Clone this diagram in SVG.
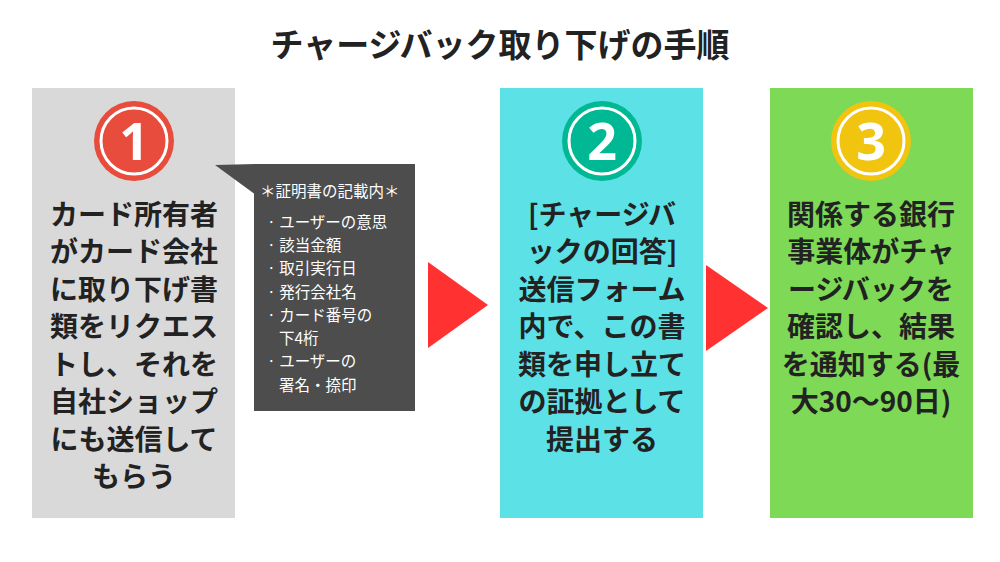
<svg xmlns="http://www.w3.org/2000/svg" width="1000" height="562" viewBox="0 0 1000 562">
<style>
.t{font-family:"Noto Sans CJK JP","Noto Sans",sans-serif;font-weight:bold;fill:#222;font-size:28px;text-anchor:middle}
.n{font-family:"Open Sans","Noto Sans",sans-serif;font-weight:bold;fill:#fff;font-size:52px;text-anchor:middle}
.c{font-family:"Noto Sans CJK JP",sans-serif;fill:#fff;font-size:15.5px}
.ring{fill:none;stroke:#fff;stroke-width:3}
</style>
<rect width="1000" height="562" fill="#fff"/>
<text x="500" y="57" class="t" style="font-size:33px">チャージバック取り下げの手順</text>
<g id="step1">
<rect x="32" y="88" width="203" height="430" fill="#d9d9d9"/>
<circle cx="134" cy="141" r="40" fill="#e74c3c"/><circle cx="134" cy="141" r="33" class="ring"/>
<text x="134" y="160" class="n">1</text>
<text class="t"><tspan x="134" y="225">カード所有者</tspan><tspan x="134" y="262">がカード会社</tspan><tspan x="134" y="300">に取り下げ書</tspan><tspan x="134" y="337">類をリクエス</tspan><tspan x="134" y="375">トし、それを</tspan><tspan x="134" y="412">自社ショップ</tspan><tspan x="134" y="450">にも送信して</tspan><tspan x="134" y="487">もらう</tspan></text>
</g>
<g id="callout">
<polygon points="215,165 260,164 260,198" fill="#4d4d4d"/>
<rect x="254" y="164" width="161" height="247" fill="#4d4d4d"/>
<text class="c"><tspan x="260" y="197">＊証明書の記載内＊</tspan><tspan x="267" y="228">· ユーザーの意思</tspan><tspan x="267" y="251">· 該当金額</tspan><tspan x="267" y="274">· 取引実行日</tspan><tspan x="267" y="298">· 発行会社名</tspan><tspan x="267" y="321">· カード番号の</tspan><tspan x="279" y="344">下4桁</tspan><tspan x="267" y="367">· ユーザーの</tspan><tspan x="279" y="391">署名・捺印</tspan></text>
</g>
<g id="step2">
<rect x="500" y="88" width="203" height="430" fill="#5ce1e6"/>
<circle cx="602" cy="141" r="40" fill="#00b894"/><circle cx="602" cy="141" r="33" class="ring"/>
<text x="602" y="160" class="n">2</text>
<text class="t"><tspan x="602" y="225">[チャージバ</tspan><tspan x="602" y="262">ックの回答]</tspan><tspan x="602" y="300">送信フォーム</tspan><tspan x="602" y="337">内で、この書</tspan><tspan x="602" y="375">類を申し立て</tspan><tspan x="602" y="412">の証拠として</tspan><tspan x="602" y="450">提出する</tspan></text>
</g>
<g id="step3">
<rect x="770" y="88" width="203" height="430" fill="#7ed957"/>
<circle cx="871" cy="141" r="40" fill="#f1c40f"/><circle cx="871" cy="141" r="33" class="ring"/>
<text x="871" y="160" class="n">3</text>
<text class="t"><tspan x="871" y="225">関係する銀行</tspan><tspan x="871" y="262">事業体がチャ</tspan><tspan x="871" y="300">ージバックを</tspan><tspan x="871" y="337">確認し、結果</tspan><tspan x="871" y="375">を通知する(最</tspan><tspan x="871" y="412">大30～90日)</tspan></text>
</g>
<g id="connectors" fill="#ff3131">
<polygon points="428,262 488,305 428,348"/>
<polygon points="706,265 768,308 706,351"/>
</g>
</svg>
